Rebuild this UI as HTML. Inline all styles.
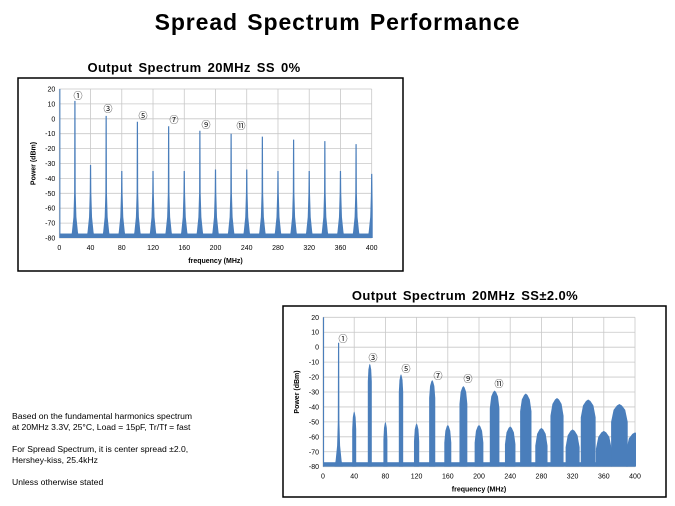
<!DOCTYPE html>
<html><head><meta charset="utf-8"><style>
body{margin:0;width:675px;height:506px;background:#fff;position:relative;overflow:hidden;font-family:"Liberation Sans","DejaVu Sans",sans-serif}
.t{position:absolute;left:0;width:675px;text-align:center;top:9px;font-size:23px;font-weight:bold;letter-spacing:0.9px;word-spacing:2px}
.txt{position:absolute;left:12px;top:411px;font-size:8.6px;line-height:11px;color:#000}
</style></head><body>
<div class="t">Spread Spectrum Performance</div>
<div class="txt">Based on the fundamental harmonics spectrum<br>at 20MHz 3.3V, 25°C, Load = 15pF, Tr/Tf = fast<br><br>For Spread Spectrum, it is center spread ±2.0,<br>Hershey-kiss, 25.4kHz<br><br>Unless otherwise stated</div>
<svg id="s" width="675" height="506" style="position:absolute;left:0;top:0"></svg>
<script>
var s='';var cid=0;
function chart(bx,by,bw,bh,title,tx,ty,x0,x1,y20,y80,peaks,ss,labels){
  var px=function(f){return x0+(x1-x0)*f/400},py=function(d){return y20+(y80-y20)*(20-d)/100};
  cid++;
  s+='<defs><clipPath id="c'+cid+'"><rect x="'+x0+'" y="'+(y20-2)+'" width="'+(x1-x0+1)+'" height="'+(y80-y20+2)+'"/></clipPath></defs>';
  s+='<text x="'+tx+'" y="'+ty+'" text-anchor="middle" font-size="13" font-weight="bold" letter-spacing="0.4" word-spacing="2" font-family="Liberation Sans,sans-serif">'+title+'</text>';
  s+='<rect x="'+bx+'" y="'+by+'" width="'+bw+'" height="'+bh+'" fill="#fff" stroke="#000" stroke-width="1.5"/>';
  for(var d=20;d>=-80;d-=10){var y=py(d);s+='<line x1="'+x0+'" x2="'+x1+'" y1="'+y+'" y2="'+y+'" stroke="#c8c8c8" stroke-width="0.8"/>';
    s+='<text x="'+(x0-4)+'" y="'+(y+2.5)+'" text-anchor="end" font-size="7">'+d+'</text>';}
  for(var f=0;f<=400;f+=40){var x=px(f);s+='<line x1="'+x+'" x2="'+x+'" y1="'+y20+'" y2="'+y80+'" stroke="#c8c8c8" stroke-width="0.8"/>';
    s+='<text x="'+x+'" y="'+(y80+12)+'" text-anchor="middle" font-size="7">'+f+'</text>';}
  s+='<text x="'+((x0+x1)/2)+'" y="'+(y80+25)+'" text-anchor="middle" font-size="7" font-weight="bold">frequency (MHz)</text>';
  var cy=(y20+y80)/2,lx=x0-24;
  s+='<text x="'+lx+'" y="'+cy+'" text-anchor="middle" font-size="7" font-weight="bold" transform="rotate(-90 '+lx+' '+cy+')">Power (dBm)</text>';
  var c='#4a7ebb';
  s+='<g clip-path="url(#c'+cid+')">';
  s+='<rect x="'+x0+'" y="'+py(-77)+'" width="'+(x1-x0)+'" height="'+(py(-80)-py(-77))+'" fill="'+c+'"/>';
  s+='<line x1="'+(x0+0.5)+'" x2="'+(x0+0.5)+'" y1="'+y20+'" y2="'+y80+'" stroke="'+c+'" stroke-width="1.2"/>';
  for(var i=0;i<peaks.length;i++){var f=20*(i+1),t=peaks[i],x=px(f);
    var w=ss&&i>0?Math.max(2,f*0.028*(x1-x0)/400):1.0;
    var pts;
    if(ss&&i>0){pts=[[x-w,-80],[x-w,Math.max(-78,t-12)],[x-w*0.7,t-4],[x-w*0.3,t-1],[x,t],[x+w*0.3,t-1],[x+w*0.7,t-4],[x+w,Math.max(-78,t-12)],[x+w,-80]];}
    else{pts=[[x-4,-80],[x-3,-76],[x-1.5,-66],[x-0.8,-50],[x-0.6,t],[x+0.6,t],[x+0.8,-50],[x+1.5,-66],[x+3,-76],[x+4,-80]];}
    s+='<polygon fill="'+c+'" points="'+pts.map(function(p){return p[0]+','+py(p[1])}).join(' ')+'"/>';}
  s+='</g>';
  for(var j=0;j<labels.length;j++){var L=labels[j];s+='<text x="'+L[1]+'" y="'+L[2]+'" text-anchor="middle" font-size="9" font-family="Noto Sans CJK JP,sans-serif">'+L[0]+'</text>';}
}
chart(18,78,385,193,'Output Spectrum 20MHz SS 0%',194,72,59.3,371.7,89,238,
 [12,-31,2,-35,-2,-35,-5,-35,-8,-34,-10,-34,-12,-35,-14,-35,-15,-35,-17,-37],false,
 [['①',78,99],['③',108,112],['⑤',143,119],['⑦',174,123],['⑨',206,128],['⑪',241,129]]);
chart(283,306,383,191,'Output Spectrum 20MHz SS\u00b12.0%',465,300,323,635,317.3,466.7,
 [3,-43,-11,-50,-18,-51,-22,-52,-26,-52,-29,-53,-31,-54,-34,-55,-35,-56,-38,-57],true,
 [['①',343,342],['③',373,361],['⑤',406,372],['⑦',438,379],['⑨',468,382],['⑪',499,387]]);
document.getElementById('s').innerHTML=s;
</script>
</body></html>
